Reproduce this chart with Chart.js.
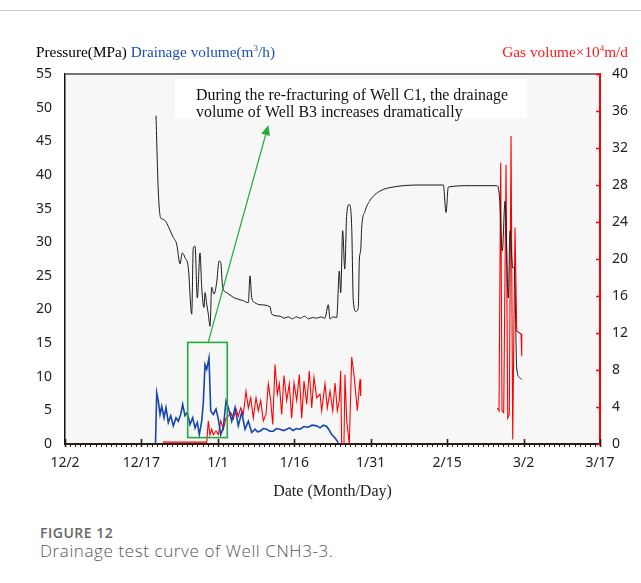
<!DOCTYPE html>
<html><head><meta charset="utf-8">
<script src="https://cdn.jsdelivr.net/npm/chart.js@4/dist/chart.umd.min.js"></script>
<style>
body{margin:0;background:#fff;width:641px;height:583px;position:relative;overflow:hidden}
#topline{position:absolute;left:0;top:10px;width:641px;height:1px;background:#d0d0d0}
#wrap{position:absolute;left:0;top:0;width:641px;height:510px}
.ttl{position:absolute;top:43px;font-family:'Liberation Serif',serif;font-size:15.3px;white-space:nowrap;line-height:18px}
.ttl sup{font-size:9px;vertical-align:6px;line-height:0}
#fig{position:absolute;left:40px;top:523px;font-family:'Open Sans',sans-serif;font-weight:600;font-size:14px;color:#666;letter-spacing:0.5px}
#cap{position:absolute;left:40px;top:539px;font-family:'Open Sans',sans-serif;font-weight:300;font-size:17px;color:#555;letter-spacing:0.6px}
</style></head>
<body>
<div id="topline"></div>
<div id="wrap"><canvas id="c" width="641" height="510"></canvas></div>
<div class="ttl" style="left:36px">Pressure(MPa) <span style="color:#1f4fb4">Drainage volume(m<sup>3</sup>/h)</span></div>
<div class="ttl" style="right:13px;color:#ff1a1a">Gas volume×10<sup>4</sup>m/d</div>
<div id="fig">FIGURE 12</div>
<div id="cap">Drainage test curve of Well CNH3-3.</div>
<script>
// x values are days counted from 12/2
const xTickLabels = ['12/2','12/17','1/1','1/16','1/31','2/15','3/2','3/17'];

const pressureDay = [17.86,18.31,18.78,19.29,21.26,21.92,22.57,23.02,23.55,24.2,24.87,25.18,25.52,25.97,26.5,26.83,27.28,27.48,27.81,28.13,28.46,28.79,29.24,29.77,30.23,30.56,30.95,31.74,33.03,35.0,35.98,36.31,36.64,37.29,38.27,40.24,40.57,42.2,43.0,43.8,44.6,45.4,46.2,47.0,47.8,48.6,49.4,50.2,51.0,51.68,52.01,52.6,53.33,53.84,54.11,54.5,54.9,55.29,55.8,56.27,56.58,57.11,57.57,57.76,58.04,58.23,58.88,59.86,61.82,64.44,69.68,74.25,74.78,75.23,79.49,84.73,85.24,85.83,86.36,87.01,87.34,87.87,88.19,88.66,89.17,89.64];
const pressureMPa = [48.8,37.6,33.6,33.4,30.7,29.7,26.8,28.4,27.7,26.2,19.3,29.2,29.4,21.7,28.4,23.3,20.3,22.5,20.8,19.3,17.5,23.3,22.3,24.0,27.2,27.0,23.3,22.5,21.8,21.3,21.0,25.0,21.8,21.0,20.7,20.4,19.3,19.0,18.7,18.9,18.6,18.9,18.7,19.0,18.6,18.8,18.7,18.9,18.7,20.7,18.6,18.9,18.8,25.7,22.5,31.7,26.0,34.1,35.6,32.2,21.3,19.7,20.3,27.2,28.9,32.2,34.6,36.2,37.6,38.2,38.5,38.5,34.4,38.2,38.4,38.4,37.0,28.7,36.1,21.7,31.7,26.2,26.2,11.3,9.9,9.6];

const drainageDay = [17.76,18.0,18.31,18.65,18.98,19.43,19.82,20.27,20.75,21.26,21.79,22.24,22.71,23.1,23.55,24.0,24.53,25.06,25.52,25.97,26.36,26.83,27.14,27.48,27.81,28.26,28.6,29.11,29.64,30.09,30.56,31.07,31.6,32.05,32.72,33.37,34.01,34.68,35.33,35.98,36.64,37.29,37.8,38.27,38.9,39.59,40.2,40.88,41.5,42.2,42.9,43.51,44.1,44.75,45.4,46.12,46.9,47.69,48.5,49.4,50.05,50.7,51.36,51.9,52.35,53.0,53.64];
const drainageM3h = [0,7.6,6.4,4.4,5.6,3.9,5.4,3.2,4.2,2.7,3.9,3.4,4.4,5.9,4.2,4.7,2.9,3.9,2.4,3.2,1.4,3.4,6.1,11.8,11.1,12.8,4.9,4.4,5.2,3.7,1.4,2.4,6.4,5.4,3.4,5.4,2.7,4.7,2.2,3.4,1.7,2.2,1.8,1.9,2.3,2.2,1.9,1.9,2.3,2.2,2.0,2.2,2.4,2.0,2.3,2.2,2.6,2.5,2.8,2.7,2.4,2.8,2.6,2.0,1.4,0.9,0.2];

const gasDay = [19.18,27.81,28.13,28.46,28.79,29.11,29.64,30.09,30.56,31.07,31.6,32.05,32.52,33.03,33.56,34.01,34.48,35.0,35.52,35.98,36.45,36.96,37.49,37.94,38.41,38.92,39.45,39.9,40.37,40.77,41.22,41.67,42.06,42.53,42.98,43.51,44.02,44.49,44.95,45.48,45.99,46.46,46.91,47.44,47.95,48.42,48.87,49.4,50.05,50.38,51.03,51.48,52.01,52.54,53.0,53.45,53.84,54.11,54.3,54.75,54.95,55.29,55.8,56.27,56.72,57.37,57.9,58.04,70,84.85,85.18,85.51,85.77,86.1,86.56,86.89,87.2,87.54,87.87,88.32,88.66,89.51,89.64];
const gasVol = [0.2,0.2,2.5,1.0,1.6,1.0,1.4,1.0,2.5,1.6,2.8,3.0,3.4,2.7,3.8,3.0,3.9,3.2,5.7,3.9,5.0,2.8,5.0,3.6,4.7,2.5,3.2,6.5,4.7,2.1,8.6,5.4,6.5,3.2,7.4,4.7,6.5,2.8,6.6,4.7,7.5,2.8,6.8,4.3,7.9,3.9,7.2,5.0,5.4,3.6,6.5,3.9,5.7,3.6,6.6,3.6,4.7,7.9,0,0,7.5,2.5,0,9.4,7.5,3.6,7.0,5.2,null,3.9,3.6,30.4,3.6,3.4,30.2,2.8,3.2,33.3,0.5,23.4,12.2,11.9,9.5];

// annotation anchors (day, MPa)
const BOX = {d0:24.08, d1:31.85, p0:0.95, p1:15.1};
const ARROW = {d0:28.1, p0:15.1, d1:39.9, p1:47.4};
const NOTE = {d0:21.6, d1:90.7, p0:48.46, p1:54.26};
const noteLines = ['During the re-fracturing of Well C1, the drainage','volume of Well B3 increases dramatically'];

const pts = (xs, ys) => xs.map((v,i)=>({x:v, y:ys[i]}));

const decor = {
  id:'decor',
  beforeDraw(chart){
    const {ctx, chartArea:a} = chart;
    ctx.save(); ctx.fillStyle='#f7f7f7';
    ctx.fillRect(a.left,a.top,a.right-a.left,a.bottom-a.top);
    ctx.restore();
  },
  afterDatasetsDraw(chart){
    const {ctx, chartArea:a, scales} = chart;
    const x = scales.x, y = scales.y, y2 = scales.y2;
    ctx.save();
    // green box
    const bx1=x.getPixelForValue(BOX.d0), bx2=x.getPixelForValue(BOX.d1);
    const by1=y.getPixelForValue(BOX.p1), by2=y.getPixelForValue(BOX.p0);
    ctx.strokeStyle='#22ac3c'; ctx.lineWidth=1.6;
    ctx.strokeRect(bx1,by1,bx2-bx1,by2-by1);
    // arrow
    const ax0=x.getPixelForValue(ARROW.d0), ay0=y.getPixelForValue(ARROW.p0);
    const ax1=x.getPixelForValue(ARROW.d1), ay1=y.getPixelForValue(ARROW.p1);
    const ang=Math.atan2(ay1-ay0, ax1-ax0), L=10, W=4.5;
    const bxA=ax1-L*Math.cos(ang), byA=ay1-L*Math.sin(ang);
    ctx.lineWidth=1.2; ctx.beginPath(); ctx.moveTo(ax0,ay0); ctx.lineTo(bxA,byA); ctx.stroke();
    ctx.fillStyle='#22ac3c'; ctx.beginPath(); ctx.moveTo(ax1,ay1);
    ctx.lineTo(bxA+W*Math.sin(ang), byA-W*Math.cos(ang));
    ctx.lineTo(bxA-W*Math.sin(ang), byA+W*Math.cos(ang)); ctx.closePath(); ctx.fill();
    // note box
    const nx1=x.getPixelForValue(NOTE.d0), nx2=x.getPixelForValue(NOTE.d1);
    const ny1=y.getPixelForValue(NOTE.p1), ny2=y.getPixelForValue(NOTE.p0);
    ctx.fillStyle='#ffffff'; ctx.fillRect(nx1,ny1,nx2-nx1,ny2-ny1);
    ctx.fillStyle='#111'; ctx.font='15.9px "Liberation Serif", serif';
    ctx.textBaseline='middle'; ctx.textAlign='left';
    noteLines.forEach((t,i)=>ctx.fillText(t, nx1+21, ny1+17+i*16.5));
    // top border
    ctx.strokeStyle='#7d716b'; ctx.lineWidth=2;
    ctx.beginPath(); ctx.moveTo(a.left,a.top); ctx.lineTo(a.right,a.top); ctx.stroke();
    // x minor (daily) and major ticks
    ctx.strokeStyle='#2a1d18'; ctx.lineWidth=1;
    for(let d=0; d<=105; d++){
      const px=Math.round(x.getPixelForValue(d))+0.5;
      ctx.beginPath();
      if(d%15===0){ ctx.lineWidth=1.6; ctx.moveTo(px,a.bottom-5); ctx.lineTo(px,a.bottom+3); }
      else { ctx.lineWidth=1; ctx.moveTo(px,a.bottom); ctx.lineTo(px,a.bottom+3); }
      ctx.stroke();
    }
    // right axis inward ticks
    ctx.strokeStyle='#ff0000'; ctx.lineWidth=1.5;
    y2.ticks.forEach(t=>{
      const py=Math.round(y2.getPixelForValue(t.value))+0.5;
      ctx.beginPath(); ctx.moveTo(a.right-4,py); ctx.lineTo(a.right,py); ctx.stroke();
    });
    ctx.restore();
  }
};

const tickFont = {family:'"Noto Sans", "Liberation Sans", sans-serif', size:14};

new Chart(document.getElementById('c'), {
  type:'line',
  data:{datasets:[
    {label:'Pressure', data:pts(pressureDay,pressureMPa), yAxisID:'y', borderColor:'#1a1a1a', borderWidth:1, pointRadius:0, cubicInterpolationMode:'monotone', fill:false},
    {label:'Drainage', data:pts(drainageDay,drainageM3h), yAxisID:'y', borderColor:'#1446ad', borderWidth:1.6, pointRadius:0, tension:0, fill:false},
    {label:'Gas', data:pts(gasDay,gasVol), yAxisID:'y2', borderColor:'#ff0000', borderWidth:1.1, pointRadius:0, tension:0, spanGaps:false, fill:false}
  ]},
  options:{
    responsive:false, animation:false, devicePixelRatio:1,
    layout:{padding:{top:74,left:0,right:0,bottom:0}},
    plugins:{legend:{display:false}, tooltip:{enabled:false}},
    scales:{
      x:{type:'linear', min:0, max:105,
        afterFit(s){ s.height = 66; },
        afterBuildTicks(s){ s.ticks = xTickLabels.map((_,i)=>({value:i*15})); },
        ticks:{callback:(v)=>xTickLabels[Math.round(v/15)], color:'#222', font:tickFont, padding:11, maxRotation:0, autoSkip:false},
        grid:{display:false, drawTicks:false},
        border:{display:true, color:'#2a1d18', width:2},
        title:{display:true, text:'Date (Month/Day)', color:'#222', font:{family:'"Liberation Serif", serif', size:16}, padding:{top:6,bottom:9}}
      },
      y:{position:'left', min:0, max:55,
        afterFit(s){ s.width = 65; },
        ticks:{stepSize:5, color:'#222', font:tickFont, padding:13},
        grid:{display:false, drawTicks:false},
        border:{display:true, color:'#111', width:1.5}
      },
      y2:{position:'right', min:0, max:40,
        afterFit(s){ s.width = 41; },
        ticks:{stepSize:4, color:'#222', font:tickFont, padding:12},
        grid:{display:false, drawTicks:false},
        border:{display:true, color:'#ff0000', width:2}
      }
    }
  },
  plugins:[decor]
});
</script>
</body></html>
